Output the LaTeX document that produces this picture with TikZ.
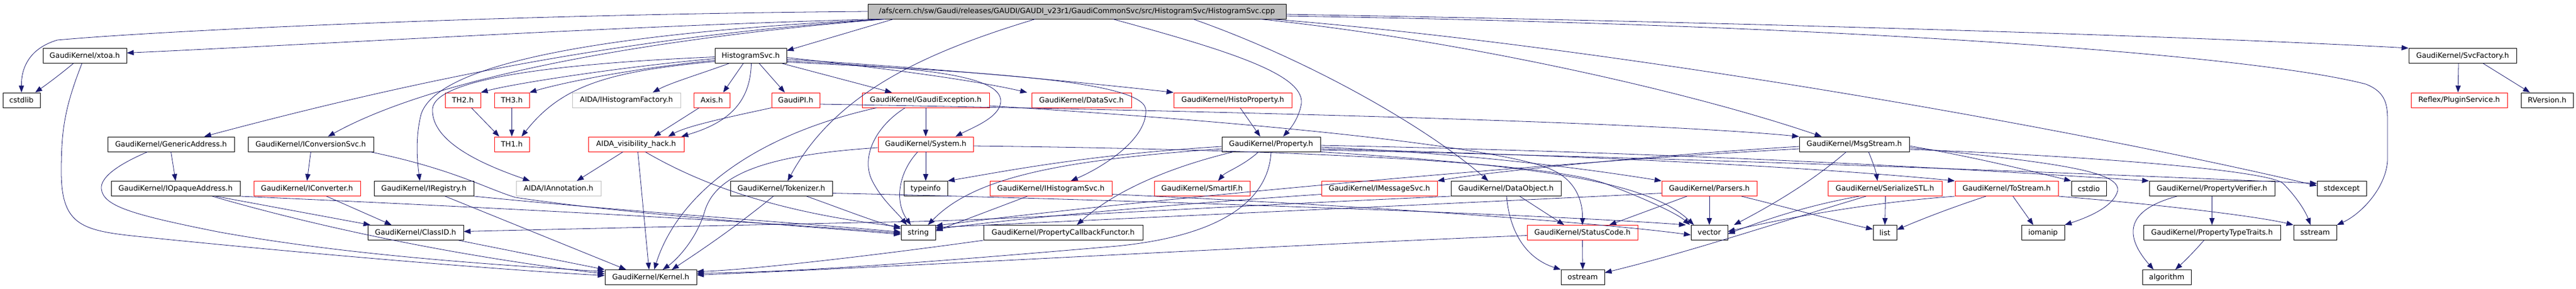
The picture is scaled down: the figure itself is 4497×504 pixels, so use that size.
\documentclass[tikz,border=0pt]{standalone}
\usepackage{fontspec}
\setmainfont{DejaVu Sans}
\usetikzlibrary{arrows.meta,calc}
\definecolor{edgec}{HTML}{191970}
\definecolor{grayb}{HTML}{BFBFBF}
\begin{document}
\begin{tikzpicture}[x=1pt,y=-1pt,
  box/.style={draw=black, line width=0.9pt, minimum height=26pt, inner sep=0pt, font=\fontsize{12.8}{15}\selectfont, anchor=center},
  rbox/.style={box, draw=red},
  gbox/.style={box, draw=grayb},
  e/.style={draw=edgec, line width=0.8pt, -{Triangle[length=12pt,width=9pt]}},
]
\fill[white] (0,0) rectangle (4497,504);
\useasboundingbox (0,0) rectangle (4497,504);
% row 0
\node[box, fill=grayb, minimum width=730pt] (root) at (1880,20) {/afs/cern.ch/sw/Gaudi/releases/GAUDI/GAUDI\_v23r1/GaudiCommonSvc/src/HistogramSvc/HistogramSvc.cpp};
% row 1
\node[box, minimum width=146pt] (xtoa) at (148,97.5) {GaudiKernel/xtoa.h};
\node[box, minimum width=125pt] (HSvc) at (1310.5,97.5) {HistogramSvc.h};
\node[box, minimum width=188pt] (SvcF) at (4299,97.5) {GaudiKernel/SvcFactory.h};
% row 2
\node[box, minimum width=65pt] (cstdlib) at (37.5,175) {cstdlib};
\node[rbox, minimum width=62pt] (TH2) at (808,175) {TH2.h};
\node[rbox, minimum width=61pt] (TH3) at (893.5,175) {TH3.h};
\node[gbox, minimum width=189pt] (IHF) at (1093.5,175) {AIDA/IHistogramFactory.h};
\node[rbox, minimum width=63pt] (Axis) at (1242.5,175) {Axis.h};
\node[rbox, minimum width=84pt] (GaudiPI) at (1389,175) {GaudiPI.h};
\node[rbox, minimum width=222pt] (GExc) at (1616,175) {GaudiKernel/GaudiException.h};
\node[rbox, minimum width=174pt] (DataSvc) at (1888,175) {GaudiKernel/DataSvc.h};
\node[rbox, minimum width=206pt] (HistoProp) at (2152,175) {GaudiKernel/HistoProperty.h};
\node[rbox, minimum width=168pt] (Plugin) at (4293,175) {Reflex/PluginService.h};
\node[box, minimum width=91pt] (RVer) at (4446.5,175) {RVersion.h};
% row 3
\node[box, minimum width=221pt] (GA) at (298.5,252) {GaudiKernel/GenericAddress.h};
\node[box, minimum width=219pt] (ICS) at (542.5,252) {GaudiKernel/IConversionSvc.h};
\node[rbox, minimum width=61pt] (TH1) at (893.5,252) {TH1.h};
\node[rbox, minimum width=167pt] (AIDAvis) at (1110.5,252) {AIDA\_visibility\_hack.h};
\node[rbox, minimum width=166pt] (System) at (1616,252) {GaudiKernel/System.h};
\node[box, minimum width=172pt] (Property) at (2219,252) {GaudiKernel/Property.h};
\node[box, minimum width=192pt] (MsgStream) at (3237,252) {GaudiKernel/MsgStream.h};
% row 4
\node[box, minimum width=225pt] (IOA) at (306.5,329.5) {GaudiKernel/IOpaqueAddress.h};
\node[rbox, minimum width=186pt] (IConv) at (536,329.5) {GaudiKernel/IConverter.h};
\node[box, minimum width=174pt] (IReg) at (740,329.5) {GaudiKernel/IRegistry.h};
\node[gbox, minimum width=148pt] (IAnn) at (975,329.5) {AIDA/IAnnotation.h};
\node[box, minimum width=178pt] (Tok) at (1364,329.5) {GaudiKernel/Tokenizer.h};
\node[box, minimum width=76pt] (typeinfo) at (1616,329.5) {typeinfo};
\node[rbox, minimum width=213pt] (IHS) at (1834.5,329.5) {GaudiKernel/IHistogramSvc.h};
\node[rbox, minimum width=167pt] (SmartIF) at (2098.5,329.5) {GaudiKernel/SmartIF.h};
\node[rbox, minimum width=202pt] (IMsg) at (2408,329.5) {GaudiKernel/IMessageSvc.h};
\node[box, minimum width=192pt] (DataObj) at (2629,329.5) {GaudiKernel/DataObject.h};
\node[rbox, minimum width=166pt] (Parsers) at (2984,329.5) {GaudiKernel/Parsers.h};
\node[rbox, minimum width=199pt] (SerSTL) at (3290.5,329.5) {GaudiKernel/SerializeSTL.h};
\node[rbox, minimum width=180pt] (ToStream) at (3503,329.5) {GaudiKernel/ToStream.h};
\node[box, minimum width=61pt] (cstdio) at (3646.5,329.5) {cstdio};
\node[box, minimum width=219pt] (PVer) at (3861.5,329.5) {GaudiKernel/PropertyVerifier.h};
\node[box, minimum width=86pt] (stdexcept) at (4088,329.5) {stdexcept};
% row 5
\node[box, minimum width=167pt] (ClassID) at (725.5,406.5) {GaudiKernel/ClassID.h};
\node[box, minimum width=60pt] (string) at (1603,406.5) {string};
\node[box, minimum width=278pt] (PCF) at (1856,406.5) {GaudiKernel/PropertyCallbackFunctor.h};
\node[rbox, minimum width=193pt] (StatusCode) at (2762.5,406.5) {GaudiKernel/StatusCode.h};
\node[box, minimum width=64pt] (vector) at (2984,406.5) {vector};
\node[box, minimum width=41pt] (list) at (3290.5,406.5) {list};
\node[box, minimum width=75pt] (iomanip) at (3566.5,406.5) {iomanip};
\node[box, minimum width=239pt] (PTT) at (3861.5,406.5) {GaudiKernel/PropertyTypeTraits.h};
\node[box, minimum width=75pt] (sstream) at (4041.5,406.5) {sstream};
% row 6
\node[box, minimum width=160pt] (Kernel) at (1136,484.5) {GaudiKernel/Kernel.h};
\node[box, minimum width=76pt] (ostream) at (2763,484.5) {ostream};
\node[box, minimum width=85pt] (algorithm) at (3782.5,484.5) {algorithm};

% ---- edges from root
\draw[e] (root.west) .. controls (900,25) and (300,52) .. (100,70) .. controls (50,85) and (37,120) .. (cstdlib.north);
\draw[e] ([xshift=15pt]root.south west) .. controls (1100,45) and (600,75) .. ([yshift=5pt]xtoa.east);
\draw[e] ([xshift=45pt]root.south west) -- ([yshift=9pt]HSvc.east);
\draw[e] ([xshift=30pt]root.south west) .. controls (1150,60) and (800,120) .. ([xshift=58pt]GA.north);
\draw[e] ([xshift=30pt]root.south west) .. controls (1100,70) and (750,140) .. ([xshift=30pt]ICS.north);
\draw[e] ([xshift=30pt]root.south west) .. controls (1000,60) and (760,120) .. (735,200) .. controls (725,240) and (728,280) .. ([xshift=-7pt]IReg.north);
\draw[e] ([xshift=-73pt]root.south) .. controls (1620,90) and (1460,160) .. ([xshift=11pt]Tok.north);
\draw[e] ([xshift=63pt]root.south) .. controls (2150,90) and (2275,130) .. (2272,180) .. controls (2268,205) and (2255,222) .. ([xshift=21pt]Property.north);
\draw[e] ([xshift=203pt]root.south) .. controls (2300,110) and (2500,230) .. ([xshift=-31pt]DataObj.north);
\draw[e] ([xshift=-45pt]root.south east) .. controls (2550,70) and (2950,160) .. ([xshift=-57pt]MsgStream.north);
\draw[e] ([xshift=-25pt]root.south east) .. controls (2800,80) and (3600,220) .. ([yshift=5pt]stdexcept.west);
\draw[e] ([yshift=-5pt]root.east) .. controls (3000,38) and (3800,62) .. (SvcF.north west);
\draw[e] ([yshift=-8pt]root.east) .. controls (3300,45) and (3950,100) .. (4130,147) .. controls (4163,160) and (4168,180) .. (4168,210) -- (4168,280) .. controls (4165,330) and (4120,375) .. (sstream.north east);
% ---- xtoa
\draw[e] ([xshift=-20pt]xtoa.south) .. controls (105,130) and (85,145) .. ([xshift=24pt]cstdlib.north);
\draw[e] ([xshift=-5pt]xtoa.south) .. controls (112,190) and (107,230) .. (107,300) .. controls (107,390) and (140,402) .. (230,412) .. controls (500,440) and (850,470) .. ([yshift=3pt]Kernel.west);
% ---- GenericAddress, IOpaqueAddress
\draw[e] (GA.south) -- (IOA.north);
\draw[e] ([xshift=-41pt]GA.south) .. controls (200,290) and (175,312) .. (177,330) .. controls (180,360) and (230,375) .. (380,405) .. controls (600,445) and (850,462) .. ([yshift=10pt]Kernel.west);
\draw[e] ([xshift=70pt]IOA.south) -- ([xshift=5pt]ClassID.north west);
\draw[e] ([xshift=64pt]IOA.south) .. controls (560,398) and (800,448) .. ([yshift=6pt]Kernel.west);
\draw[e] (IOA.south east) .. controls (800,360) and (1300,385) .. ([yshift=-1pt]string.west);
% ---- IConversionSvc, IConverter, IRegistry, ClassID
\draw[e] (ICS.south) -- (IConv.north);
\draw[e] ([xshift=104pt]ICS.south) .. controls (790,295) and (850,330) .. (900,345) .. controls (1100,375) and (1400,395) .. ([yshift=-3pt]string.west);
\draw[e] ([xshift=34pt]IConv.south) -- ([xshift=-42pt]ClassID.north);
\draw[e] ([xshift=37pt]IReg.south) -- ([xshift=-43pt]Kernel.north);
\draw[e] (IReg.south east) .. controls (1100,370) and (1400,390) .. ([yshift=1pt]string.west);
\draw[e] ([xshift=75pt]ClassID.south) -- (Kernel.north west);
% ---- TH
\draw[e] ([xshift=15pt]TH2.south) -- ([xshift=-22pt]TH1.north);
\draw[e] (TH3.south) -- (TH1.north);
% ---- HistogramSvc.h
\draw[e] ([yshift=-5pt]HSvc.west) .. controls (1100,115) and (900,145) .. (TH2.north east);
\draw[e] ([yshift=-8pt]HSvc.west) .. controls (1100,120) and (980,145) .. (TH3.north east);
\draw[e] ([yshift=-10pt]HSvc.west) .. controls (1060,125) and (980,150) .. ([xshift=17pt]TH1.north);
\draw[e] ([yshift=-2pt]HSvc.west) .. controls (950,112) and (760,140) .. (755,190) .. controls (752,250) and (850,290) .. ([xshift=-50pt]IAnn.north);
\draw[e] ([xshift=-38pt]HSvc.south) .. controls (1220,130) and (1170,145) .. ([xshift=46pt]IHF.north);
\draw[e] ([xshift=-13pt]HSvc.south) -- ([xshift=20pt]Axis.north);
\draw[e] ([xshift=1pt]HSvc.south) .. controls (1310,180) and (1270,215) .. ([xshift=-5pt]AIDAvis.north east);
\draw[e] ([xshift=15pt]HSvc.south) -- ([xshift=-19pt]GaudiPI.north);
\draw[e] ([xshift=55pt]HSvc.south) -- ([xshift=-59pt]GExc.north);
\draw[e] ([yshift=-3pt]HSvc.east) .. controls (1550,120) and (1700,140) .. ([xshift=-95pt]DataSvc.north);
\draw[e] ([yshift=-6pt]HSvc.east) .. controls (1650,120) and (1900,145) .. (HistoProp.north west);
\draw[e] ([yshift=-9pt]HSvc.east) .. controls (1600,118) and (1750,130) .. (1747,178) .. controls (1745,205) and (1700,222) .. ([xshift=52pt]System.north);
\draw[e] ([yshift=-11pt]HSvc.east) .. controls (1700,125) and (1990,140) .. (2000,190) .. controls (2005,240) and (1930,290) .. ([xshift=35pt]IHS.north);
% ---- Axis, GaudiPI, AIDA_visibility_hack
\draw[e] ([xshift=-22pt]Axis.south) -- ([xshift=31pt]AIDAvis.north);
\draw[e] (GaudiPI.south west) .. controls (1270,205) and (1200,220) .. ([xshift=56pt]AIDAvis.north);
\draw[e] ([yshift=-7pt]GaudiPI.east) .. controls (2200,195) and (2900,215) .. (MsgStream.north west);
\draw[e] ([xshift=-23pt]AIDAvis.south) -- ([xshift=32pt]IAnn.north);
\draw[e] ([xshift=3pt]AIDAvis.south) -- ([xshift=-3pt]Kernel.north);
\draw[e] ([xshift=16pt]AIDAvis.south) .. controls (1220,320) and (1350,370) .. ([yshift=10pt]string.west);
% ---- Tokenizer
\draw[e] ([xshift=-14pt]Tok.south) .. controls (1280,400) and (1220,440) .. ([xshift=37pt]Kernel.north);
\draw[e] ([xshift=44pt]Tok.south) .. controls (1470,365) and (1520,385) .. ([yshift=7pt]string.west);
\draw[e] ([yshift=-8pt]Tok.east) .. controls (2000,350) and (2700,375) .. ([xshift=-41pt]vector.north);
% ---- GaudiException, System
\draw[e] (GExc.south) -- (System.north);
\draw[e] ([xshift=-36pt]GExc.south) .. controls (1530,220) and (1505,270) .. (1520,310) .. controls (1535,345) and (1565,370) .. ([xshift=-20pt]string.north);
\draw[e] ([xshift=-86pt]GExc.south) .. controls (1300,240) and (1180,350) .. ([xshift=6pt]Kernel.north);
\draw[e] ([yshift=-10pt]GExc.east) .. controls (2300,220) and (2650,265) .. (2712,298) .. controls (2750,316) and (2763,350) .. (StatusCode.north);
\draw[e] (System.south) -- (typeinfo.north);
\draw[e] ([xshift=-14pt]System.south) .. controls (1570,300) and (1560,350) .. ([xshift=-13pt]string.north);
\draw[e] ([yshift=-6pt]System.west) .. controls (1350,270) and (1250,300) .. (1230,370) .. controls (1215,420) and (1180,455) .. ([xshift=21pt]Kernel.north);
\draw[e] ([yshift=-3pt]System.east) .. controls (2300,262) and (2700,285) .. (2800,320) .. controls (2880,350) and (2930,375) .. ([xshift=-34pt]vector.north);
% ---- HistoProperty, Property
\draw[e] ([xshift=13pt]HistoProp.south) -- ([xshift=-19pt]Property.north);
\draw[e] ([yshift=-4pt]Property.west) .. controls (1900,270) and (1750,300) .. (typeinfo.north east);
\draw[e] ([yshift=-8pt]Property.west) .. controls (1850,280) and (1700,310) .. ([xshift=17pt]string.north);
\draw[e] ([xshift=-66pt]Property.south) .. controls (2050,290) and (1950,330) .. ([xshift=24pt]PCF.north);
\draw[e] (Property.south) .. controls (2215,340) and (2150,410) .. (1950,430) .. controls (1600,460) and (1400,475) .. ([yshift=7pt]Kernel.east);
\draw[e] ([xshift=-22pt]Property.south) .. controls (2170,290) and (2140,300) .. ([xshift=28pt]SmartIF.north);
\draw[e] ([yshift=-2pt]Property.east) .. controls (3000,268) and (3500,300) .. (PVer.north west);
\draw[e] ([yshift=-5pt]Property.east) .. controls (2600,270) and (2800,300) .. (Parsers.north west);
\draw[e] ([yshift=-8pt]Property.east) .. controls (2900,275) and (3250,300) .. (ToStream.north west);
\draw[e] ([yshift=-10pt]Property.east) .. controls (3100,280) and (3800,310) .. ([yshift=9pt]stdexcept.west);
\draw[e] (Property.south east) .. controls (2700,290) and (2880,320) .. ([xshift=-27pt]vector.north);
% ---- MsgStream
\draw[e] ([yshift=-4pt]MsgStream.west) .. controls (2900,270) and (2600,300) .. (IMsg.north east);
\draw[e] ([xshift=25pt]MsgStream.south) .. controls (3270,285) and (3275,300) .. ([xshift=-13pt]SerSTL.north);
\draw[e] ([xshift=-14pt]MsgStream.south) .. controls (3160,320) and (3090,360) .. ([xshift=43pt]vector.north);
\draw[e] ([yshift=-3pt]MsgStream.east) .. controls (3450,275) and (3550,300) .. (cstdio.north west);
\draw[e] ([yshift=-6pt]MsgStream.east) .. controls (3600,285) and (3700,300) .. (3697,333) .. controls (3690,360) and (3650,378) .. (iomanip.north east);
\draw[e] ([yshift=-9pt]MsgStream.east) .. controls (3700,275) and (3960,300) .. (3985,320) .. controls (4010,345) and (4025,370) .. ([xshift=-8pt]sstream.north);
\draw[e] ([yshift=-8pt]MsgStream.west) .. controls (2600,290) and (1900,360) .. ([yshift=12pt]string.east);
% ---- SerializeSTL, ToStream, Parsers
\draw[e] ([xshift=1pt]SerSTL.south) -- (list.north);
\draw[e] ([xshift=-45pt]SerSTL.south) .. controls (3150,360) and (3080,385) .. ([yshift=-2pt]vector.east);
\draw[e] ([xshift=-33pt]SerSTL.south) .. controls (3100,390) and (2950,440) .. ([yshift=8pt]ostream.east);
\draw[e] ([xshift=11pt]ToStream.south) -- ([xshift=-17pt]iomanip.north);
\draw[e] ([xshift=-36pt]ToStream.south) .. controls (3400,365) and (3350,385) .. ([yshift=5pt]list.east);
\draw[e] (ToStream.south west) .. controls (3250,355) and (3100,385) .. ([yshift=2pt]vector.east);
\draw[e] (ToStream.south east) .. controls (3800,360) and (3950,380) .. (sstream.north west);
\draw[e] (Parsers.south) -- (vector.north);
\draw[e] ([xshift=56pt]Parsers.south) .. controls (3150,370) and (3220,390) .. ([yshift=6pt]list.west);
\draw[e] ([xshift=-39pt]Parsers.south) -- ([xshift=47pt]StatusCode.north);
\draw[e] ([yshift=-8pt]Parsers.west) .. controls (2700,348) and (2000,380) .. ([yshift=9pt]string.east);
% ---- DataObject, StatusCode
\draw[e] (DataObj.south west) .. controls (2100,362) and (1800,382) .. (1600,387) .. controls (1300,393) and (1000,400) .. ([yshift=2pt]ClassID.east);
\draw[e] ([xshift=24pt]DataObj.south) -- ([xshift=-32pt]StatusCode.north);
\draw[e] ([xshift=1pt]DataObj.south) .. controls (2635,400) and (2660,450) .. (ostream.north west);
\draw[e] (StatusCode.south) -- (ostream.north);
\draw[e] ([yshift=-5pt]StatusCode.west) .. controls (2200,430) and (1600,465) .. ([yshift=4pt]Kernel.east);
% ---- IMessageSvc, IHistogramSvc, PropertyCallbackFunctor
\draw[e] ([yshift=-10pt]IMsg.west) .. controls (2000,360) and (1750,385) .. ([yshift=6pt]string.east);
\draw[e] ([xshift=-41pt]IHS.south) -- ([yshift=3pt]string.east);
\draw[e] ([yshift=-10pt]IHS.east) .. controls (2400,360) and (2800,390) .. ([yshift=-4pt]vector.west);
\draw[e] (PCF.south west) .. controls (1500,450) and (1300,472) .. ([yshift=10pt]Kernel.east);
% ---- PropertyVerifier, PropertyTypeTraits
\draw[e] (PVer.south) -- (PTT.north);
\draw[e] ([xshift=-61pt]PVer.south) .. controls (3700,370) and (3715,420) .. ([xshift=-23pt]algorithm.north);
\draw[e] ([xshift=-14pt]PTT.south) .. controls (3830,440) and (3815,455) .. ([xshift=15pt]algorithm.north);
% ---- SvcFactory
\draw[e] ([xshift=-7pt]SvcF.south) -- ([xshift=-2pt]Plugin.north);
\draw[e] ([xshift=36pt]SvcF.south) -- ([xshift=-30pt]RVer.north);
\end{tikzpicture}
\end{document}
